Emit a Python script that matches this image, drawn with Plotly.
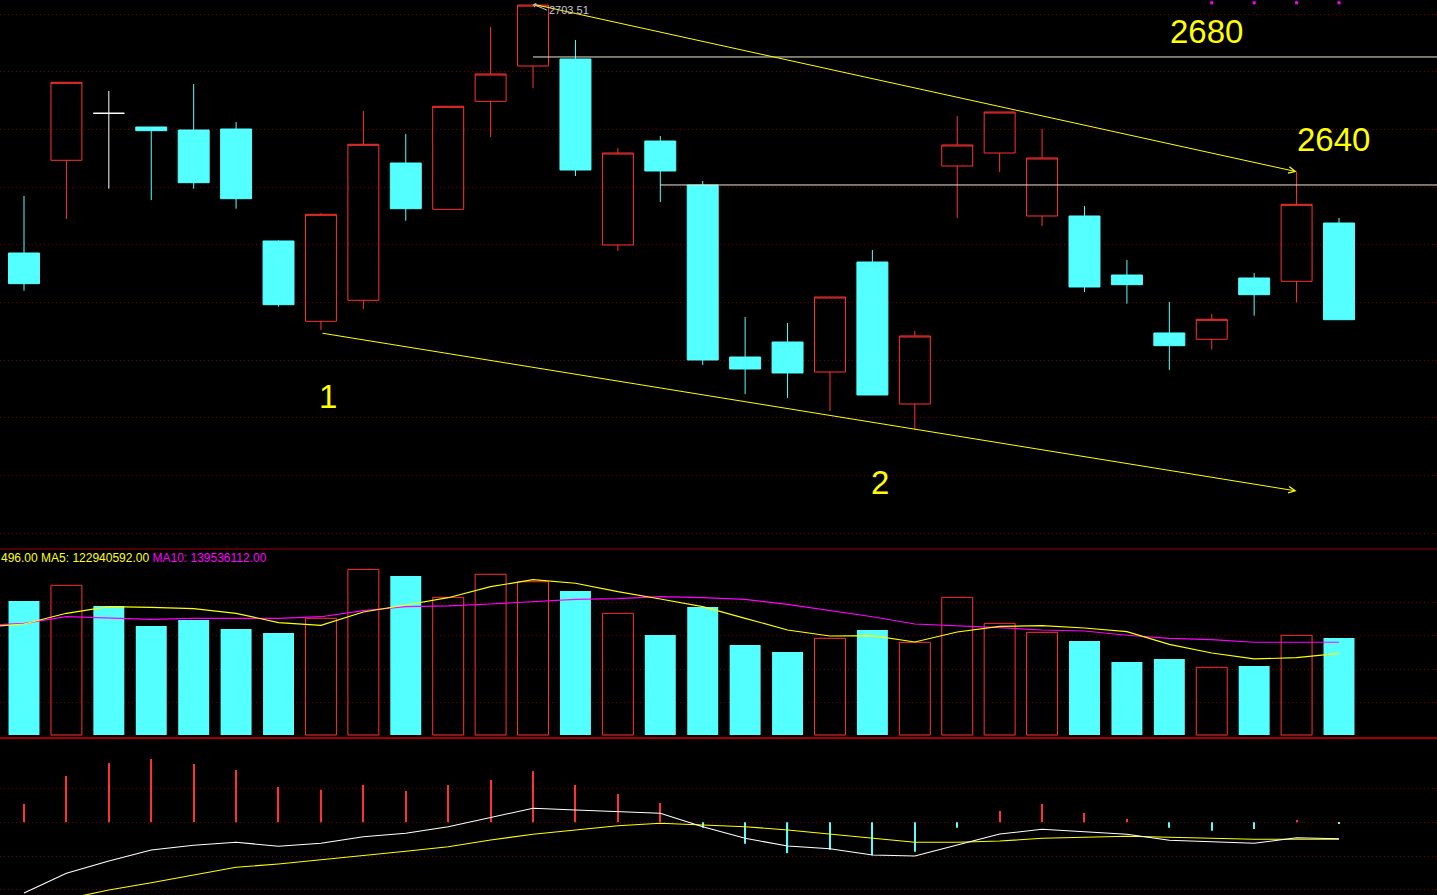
import plotly.graph_objects as go

# ---------------- data ----------------
idx = list(range(32))
open_ = [2617.20, 2649.36, 2665.66, 2660.91, 2659.87, 2660.21, 2621.37, 2593.51, 2600.80, 2648.42,
         2632.36, 2669.82, 2682.07, 2684.50, 2619.98, 2656.05, 2640.79, 2581.13, 2586.33, 2575.93,
         2614.08, 2564.83, 2647.38, 2651.89, 2630.04, 2630.04, 2609.57, 2589.46, 2587.27, 2608.53,
         2607.39, 2627.61]
high = [2636.98, 2676.41, 2673.40, 2660.91, 2675.82, 2662.64, 2621.60, 2630.97, 2666.46, 2658.48,
        2668.09, 2695.59, 2703.51, 2691.09, 2653.62, 2657.79, 2642.18, 2595.01, 2592.92, 2601.94,
        2618.24, 2590.15, 2664.72, 2666.11, 2660.22, 2633.51, 2614.78, 2600.21, 2596.05, 2610.27,
        2645.40, 2629.34]
low = [2604.13, 2629.00, 2639.51, 2635.59, 2639.51, 2632.57, 2598.58, 2590.50, 2597.78, 2628.41,
       2632.36, 2657.44, 2674.44, 2643.91, 2617.90, 2634.89, 2578.36, 2568.30, 2566.91, 2562.40,
       2567.95, 2555.81, 2629.34, 2645.30, 2626.57, 2603.68, 2599.62, 2576.62, 2583.66, 2595.46,
       2600.11, 2594.07]
close = [2606.56, 2676.41, 2665.66, 2659.63, 2641.59, 2636.04, 2599.27, 2630.63, 2654.91, 2632.57,
         2668.09, 2679.29, 2703.20, 2645.99, 2651.89, 2645.65, 2580.09, 2576.97, 2575.58, 2601.94,
         2567.95, 2588.42, 2654.67, 2666.11, 2650.16, 2605.41, 2606.21, 2585.05, 2594.21, 2602.74,
         2634.10, 2594.07]

# volume in millions
volume = [203.0, 226.8, 195.4, 165.1, 174.2, 160.6, 154.5, 176.8, 251.0, 240.9,
          208.6, 243.5, 232.2, 218.2, 184.4, 151.5, 193.9, 136.4, 125.7, 146.5,
          159.1, 140.4, 208.6, 169.2, 155.6, 142.4, 110.6, 115.1, 102.6, 104.5,
          151.0, 147.0]
ma_idx = list(range(-1, 32))
vol_ma5 = [162.9, 168.2, 184.4, 194.4, 193.5, 191.4, 184.4, 170.2, 166.2, 186.4, 197.0,
           208.0, 224.7, 235.3, 229.9, 217.1, 206.1, 194.4, 176.8, 159.1, 150.0,
           150.5, 140.9, 156.1, 164.7, 165.6, 162.1, 156.5, 137.4, 124.2, 115.2,
           117.1, 123.8]
vol_ma10 = [165.9, 169.2, 179.2, 177.7, 175.3, 176.8, 176.8, 176.8, 179.2, 188.3, 194.4,
            195.5, 198.5, 202.0, 205.6, 206.5, 209.6, 208.0, 205.6, 198.0, 188.3,
            179.2, 168.2, 165.6, 162.6, 159.1, 157.6, 151.1, 146.5, 144.4, 140.5,
            140.5, 140.5]

macd_hist = [5.43, 13.74, 17.60, 18.78, 17.30, 15.52, 10.47, 9.67, 11.07, 9.29,
             11.07, 12.55, 15.22, 11.07, 8.40, 5.73, -1.60, -6.35, -9.14, -8.13,
             -9.79, -8.72, -1.60, 3.35, 5.43, 2.76, 0.98, -1.60, -2.49, -2.00,
             0.68, -0.21]
dif = [-20.98, -15.13, -11.48, -8.22, -6.82, -5.93, -7.12, -6.23, -4.27, -3.26,
       -1.31, 1.36, 4.15, 3.65, 3.26, 2.67, -1.31, -4.75, -7.03, -7.83,
       -9.70, -10.00, -6.74, -3.47, -2.08, -2.88, -3.56, -5.34, -5.85, -6.23,
       -4.57, -4.87]
dea = [-25.4, -22.8, -20.09, -17.92, -15.73, -13.35, -12.37, -11.19, -9.91, -8.61,
       -7.24, -5.25, -3.56, -2.28, -1.01, -0.30, -0.71, -1.31, -2.28, -3.56,
       -4.75, -5.93, -5.93, -5.55, -4.75, -4.45, -4.15, -4.45, -4.75, -5.04,
       -5.04, -5.04]

level_lines = [(12, 2685.2), (15, 2640.8)]   # (start index, price)
trend_up = [(12, 2703.51), (30, 2645.40)]
trend_dn = [(7, 2589.46), (30, 2534.65)]
marks_idx = [28, 29, 30, 31]

RED = '#ff3232'
CYAN = '#54ffff'
GRID = '#780000'
W, H = 1437, 895

def px(x):
    return x / W

def py(y):
    return 1 - y / H

fig = go.Figure()

# ---------------- candles ----------------
def subset(cond):
    s = [i for i in idx if cond(i)]
    return (s, [open_[i] for i in s], [high[i] for i in s], [low[i] for i in s], [close[i] for i in s])

for cond, lc, fc in [
    (lambda i: close[i] > open_[i], RED, 'rgba(0,0,0,0)'),
    (lambda i: close[i] < open_[i], CYAN, CYAN),
    (lambda i: close[i] == open_[i], '#ffffff', '#ffffff'),
]:
    s, o, h, l, c = subset(cond)
    fig.add_trace(go.Candlestick(
        x=s, open=o, high=h, low=l, close=c, xaxis='x', yaxis='y',
        increasing=dict(line=dict(color=lc, width=1), fillcolor=fc),
        decreasing=dict(line=dict(color=lc, width=1), fillcolor=fc),
        whiskerwidth=0, showlegend=False, hoverinfo='skip'))

fig.add_trace(go.Scatter(x=marks_idx, y=[2704.0] * len(marks_idx), mode='markers',
                         marker=dict(color='#ff00ff', size=3, symbol='square'),
                         xaxis='x', yaxis='y', showlegend=False, hoverinfo='skip'))

# ---------------- volume ----------------
up = [close[i] > open_[i] for i in idx]
fig.add_trace(go.Bar(x=[i for i in idx if up[i]], y=[volume[i] for i in idx if up[i]],
                     width=0.73, marker=dict(color='rgba(0,0,0,0)', line=dict(color=RED, width=1)),
                     xaxis='x', yaxis='y2', showlegend=False, hoverinfo='skip'))
fig.add_trace(go.Bar(x=[i for i in idx if not up[i]], y=[volume[i] for i in idx if not up[i]],
                     width=0.73, marker=dict(color=CYAN, line=dict(width=0)),
                     xaxis='x', yaxis='y2', showlegend=False, hoverinfo='skip'))
fig.add_trace(go.Scatter(x=ma_idx, y=vol_ma10, mode='lines', line=dict(color='#ff00ff', width=1.2),
                         xaxis='x', yaxis='y2', showlegend=False, hoverinfo='skip'))
fig.add_trace(go.Scatter(x=ma_idx, y=vol_ma5, mode='lines', line=dict(color='#ffff00', width=1.2),
                         xaxis='x', yaxis='y2', showlegend=False, hoverinfo='skip'))

# ---------------- MACD ----------------
fig.add_trace(go.Bar(x=idx, y=macd_hist, width=0.028,
                     marker=dict(color=[RED if v >= 0 else CYAN for v in macd_hist], line=dict(width=0)),
                     xaxis='x', yaxis='y3', showlegend=False, hoverinfo='skip'))
fig.add_trace(go.Scatter(x=idx, y=dea, mode='lines', line=dict(color='#ffff00', width=1.1),
                         xaxis='x', yaxis='y3', showlegend=False, hoverinfo='skip'))
fig.add_trace(go.Scatter(x=idx, y=dif, mode='lines', line=dict(color='#ffffff', width=1.1),
                         xaxis='x', yaxis='y3', showlegend=False, hoverinfo='skip'))

# ---------------- shapes / annotations ----------------
shapes = []
for x0, p in level_lines:
    shapes.append(dict(type='line', xref='x', yref='y', x0=x0, x1=40, y0=p, y1=p,
                       line=dict(color='#e8e8d0', width=1)))
shapes.append(dict(type='line', xref='paper', yref='paper', x0=0, x1=1, y0=py(549), y1=py(549),
                   line=dict(color='#a00000', width=1)))
shapes.append(dict(type='line', xref='paper', yref='paper', x0=0, x1=1, y0=py(738), y1=py(738),
                   line=dict(color='#d80000', width=1.5)))

ann = []
for (x0, y0), (x1, y1) in [trend_up, trend_dn]:
    ann.append(dict(x=x1, y=y1, ax=x0, ay=y0, xref='x', yref='y', axref='x', ayref='y',
                    text='', showarrow=True, arrowhead=5, arrowsize=1.3, arrowwidth=1,
                    arrowcolor='#ffff00', standoff=0, startstandoff=0))
ann.append(dict(x=12, y=2703.51, xref='x', yref='y', text='2703.51', showarrow=True,
                ax=14, ay=6, xanchor='left', yanchor='middle', arrowhead=4, arrowsize=0.8,
                arrowwidth=1, arrowcolor='#c8c8c8', standoff=0,
                font=dict(color='#c8c8c8', size=11, family='Liberation Sans')))
for txt, x, y in [('2680', 1206, 31), ('2640', 1333, 139), ('1', 328, 396), ('2', 880, 482)]:
    ann.append(dict(x=px(x), y=py(y), xref='paper', yref='paper', text=txt, showarrow=False,
                    xanchor='center', yanchor='middle',
                    font=dict(color='#ffff00', size=33, family='Liberation Sans')))
ann.append(dict(x=px(-1), y=py(558), xref='paper', yref='paper', showarrow=False,
                xanchor='left', yanchor='middle',
                text="496.00 MA5: 122940592.00 <span style='color:#ff00ff'>MA10: 139536112.00</span>",
                font=dict(color='#ffff00', size=12, family='Liberation Sans')))

def yax(domain, rng, ticks):
    return dict(domain=domain, range=rng, tickvals=ticks, showgrid=True, gridcolor=GRID,
                griddash='1px,3px', gridwidth=1, zeroline=False, showticklabels=False,
                showline=False, ticks='', fixedrange=True)

fig.update_layout(
    width=W, height=H, autosize=False, margin=dict(l=0, r=0, t=0, b=0, pad=0),
    paper_bgcolor='#000000', plot_bgcolor='#000000',
    boxgap=0.27, boxgroupgap=0, barmode='overlay',
    xaxis=dict(range=[-0.5658, 33.31], showgrid=False, zeroline=False, showticklabels=False,
               showline=False, ticks='', rangeslider=dict(visible=False), fixedrange=True,
               anchor='y3'),
    yaxis=yax([py(549), 1], [2514.53, 2704.96], [2700, 2680, 2660, 2640, 2620, 2600, 2580, 2560, 2540, 2520]),
    yaxis2=yax([py(738), py(549)], [-4.545, 281.8], [50, 100, 150, 200]),
    yaxis3=yax([0, py(738)], [-21.57, 25.01], [10, 0, -10, -20]),
    shapes=shapes, annotations=ann, showlegend=False,
)

fig.write_html("out.html", config={'displayModeBar': False},
               post_script="document.body.style.margin='0';document.body.style.overflow='hidden';")
